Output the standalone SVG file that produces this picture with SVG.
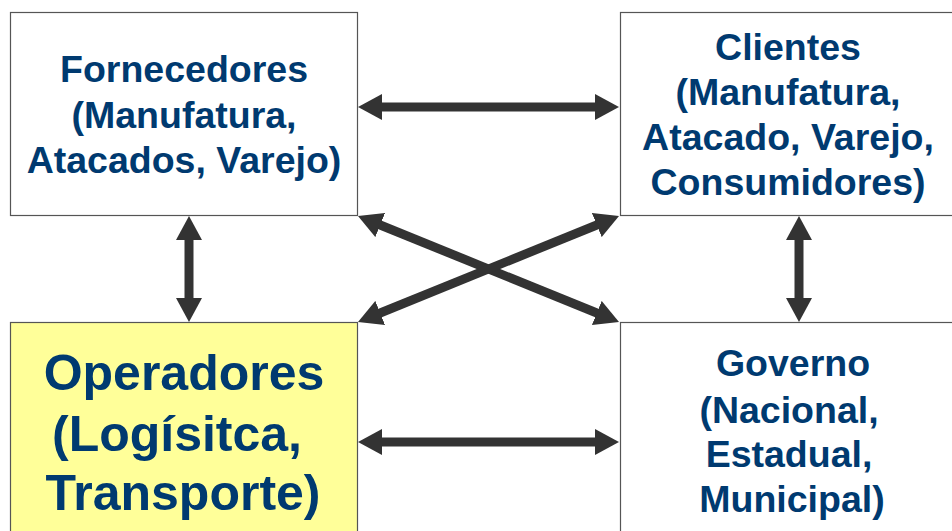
<svg xmlns="http://www.w3.org/2000/svg" width="952" height="531" viewBox="0 0 952 531">
<style>
.box{fill:#ffffff;stroke:#555555;stroke-width:1.2}
.yel{fill:#ffff99}
.t{font-family:"Liberation Sans",Arial,sans-serif;font-weight:bold;fill:#003a70;text-anchor:middle;font-size:37.5px}
.big{font-size:50px}
.c line{stroke:#333333;stroke-width:9;marker-start:url(#ah);marker-end:url(#ah)}
</style>
<defs>
<marker id="ah" markerUnits="userSpaceOnUse" viewBox="0 0 24 26" refX="12" refY="13" markerWidth="24" markerHeight="26" orient="auto-start-reverse">
<path d="M0,0 L24,13 L0,26 z" fill="#333333"/>
</marker>
</defs>
<rect width="952" height="531" fill="#ffffff"/>
<g id="fornecedores">
<rect class="box" x="10.5" y="12.5" width="347" height="203"/>
<text class="t" x="184" y="82">Fornecedores</text>
<text class="t" x="184" y="128">(Manufatura,</text>
<text class="t" x="184" y="173">Atacados, Varejo)</text>
</g>
<g id="clientes">
<rect class="box" x="620.5" y="12.5" width="340" height="203"/>
<text class="t" x="788" y="60">Clientes</text>
<text class="t" x="788" y="104.5">(Manufatura,</text>
<text class="t" x="788" y="149.5">Atacado, Varejo,</text>
<text class="t" x="788" y="194.5">Consumidores)</text>
</g>
<g id="operadores">
<rect class="box yel" x="10.5" y="322.5" width="347" height="220"/>
<text class="t big" x="184" y="390">Operadores</text>
<text class="t big" x="177" y="451">(Logísitca,</text>
<text class="t big" x="183" y="510">Transporte)</text>
</g>
<g id="governo">
<rect class="box" x="620.5" y="322.5" width="340" height="220"/>
<text class="t" x="793" y="376">Governo</text>
<text class="t" x="789" y="423">(Nacional,</text>
<text class="t" x="789" y="467">Estadual,</text>
<text class="t" x="792" y="512">Municipal)</text>
</g>
<g id="connectors" class="c">
<line x1="370" y1="107" x2="607" y2="107"/>
<line x1="370" y1="442" x2="607" y2="442"/>
<line x1="189" y1="228" x2="189" y2="310"/>
<line x1="799" y1="228" x2="799" y2="310"/>
<line x1="369.1" y1="220.5" x2="607.9" y2="317.5"/>
<line x1="369.1" y1="317.5" x2="607.9" y2="220.5"/>
</g>
</svg>
